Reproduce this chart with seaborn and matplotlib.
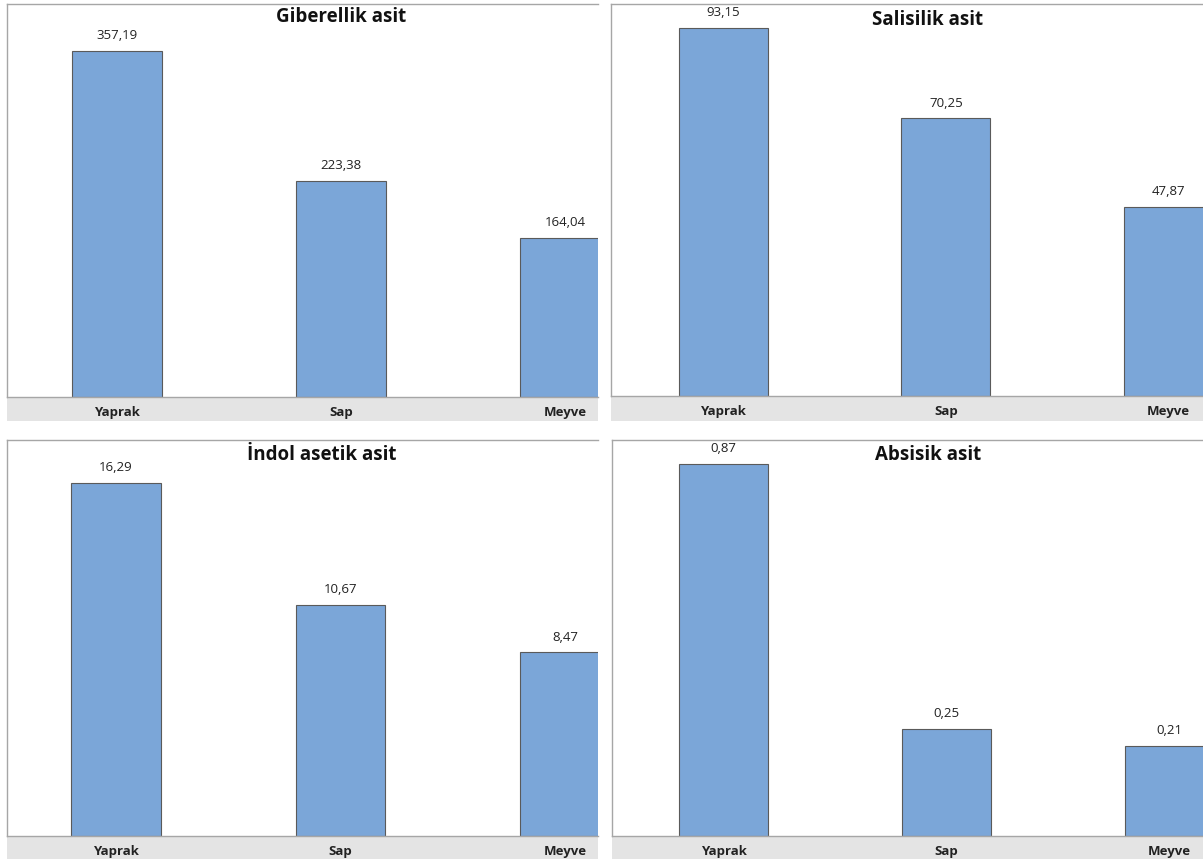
import matplotlib
matplotlib.use("Agg")
import matplotlib.pyplot as plt
from matplotlib.patches import Rectangle
import seaborn as sns

sns.set_style("white")
plt.rcParams["font.family"] = ["Open Sans", "DejaVu Sans"]

categories = ["Yaprak", "Sap", "Meyve"]
giberellik = [357.19, 223.38, 164.04]
salisilik = [93.15, 70.25, 47.87]
indol = [16.29, 10.67, 8.47]
absisik = [0.87, 0.25, 0.21]

titles = ["Giberellik asit", "Salisilik asit", "İndol asetik asit", "Absisik asit"]
series = [giberellik, salisilik, indol, absisik]

W, H = 1203, 862
bar_color = "#7ba6d8"
frame_color = "#a6a6a6"
strip_color = "#e4e4e4"

# panel layout in pixels: left, top, right, bottom, strip bottom
boxes = [(7, 5, 598, 398, 422), (611, 5, 1203, 397, 422),
         (7, 441, 598, 837, 860), (612, 441, 1203, 837, 860)]
xlims = [(-0.49, 2.147), (-0.504, 2.155), (-0.486, 2.147), (-0.5, 2.15)]
ylims = [405.6, 99.2, 18.27, 0.926]
title_x = [0.565, 0.534, 0.533, 0.535]
title_y = [0.97, 0.962, 0.965, 0.965]

fig = plt.figure(figsize=(W / 100, H / 100), dpi=100)

for i, (l, t, r, b, sb) in enumerate(boxes):
    fig.add_artist(Rectangle((l / W, 1 - sb / H), (r - l) / W, (sb - b) / H,
                             transform=fig.transFigure, facecolor=strip_color,
                             edgecolor="none", zorder=-1))
    ax = fig.add_axes([l / W, 1 - b / H, (r - l) / W, (b - t) / H])
    sns.barplot(x=categories, y=series[i], ax=ax, color=bar_color, saturation=1,
                width=0.4, edgecolor="#5a5a5a", linewidth=0.8)
    labels = [f"{v:.2f}".replace(".", ",") for v in series[i]]
    ax.bar_label(ax.containers[0], labels=labels, padding=7, fontsize=9.5, color="#222222")
    ax.set_xlim(*xlims[i])
    ax.set_ylim(0, ylims[i])
    ax.set_yticks([])
    ax.set_xlabel("")
    ax.set_ylabel("")
    ax.tick_params(axis="x", length=4, width=0.8, color=frame_color, pad=1.5,
                   labelsize=9.5, labelcolor="#222222")
    for lab in ax.get_xticklabels():
        lab.set_fontweight("bold")
    ax.spines["right"].set_visible(False)
    for s in ["left", "top", "bottom"]:
        ax.spines[s].set_color(frame_color)
        ax.spines[s].set_linewidth(1.0)
    ax.text(title_x[i], title_y[i], titles[i], transform=ax.transAxes, ha="center",
            va="center", fontsize=13.5, fontweight="bold", color="#111111")

fig.savefig("out.png", dpi=100)
